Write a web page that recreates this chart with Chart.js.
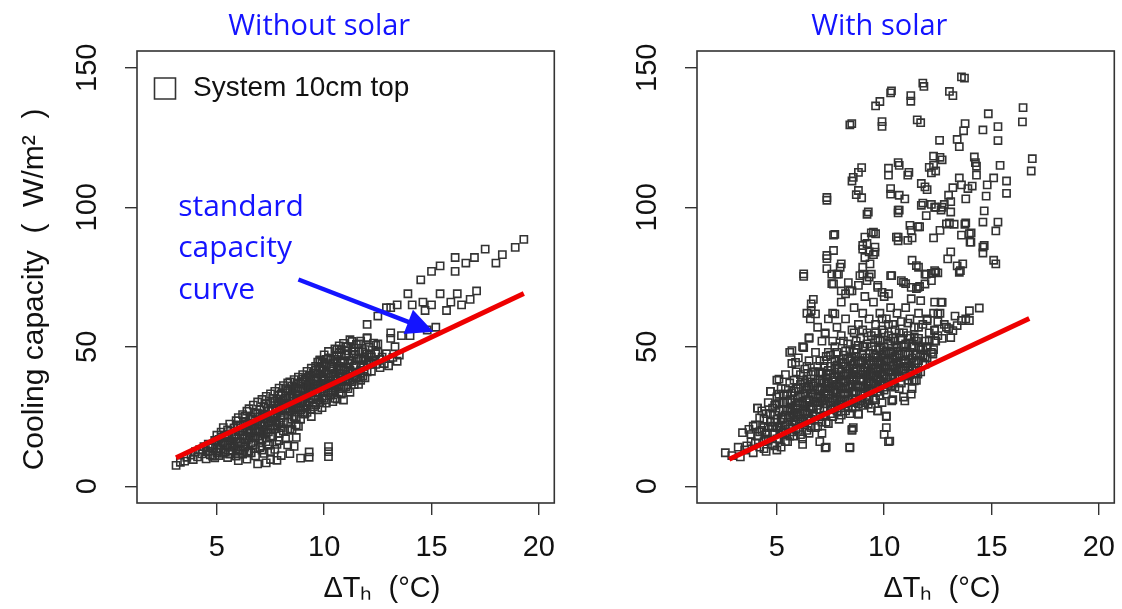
<!DOCTYPE html>
<html><head><meta charset="utf-8">
<script src="https://cdn.jsdelivr.net/npm/chart.js@4.4.1/dist/chart.umd.min.js"></script>
<style>
html,body{margin:0;padding:0;background:#fff;}
body{width:1122px;height:609px;position:relative;overflow:hidden;}
canvas{position:absolute;top:0;}
</style></head><body>
<canvas id="c1" width="561" height="609" style="left:0;width:561px;height:609px"></canvas>
<canvas id="c2" width="561" height="609" style="left:560px;width:561px;height:609px"></canvas>
<script>
// ---------- data ----------
const xTicks = [5, 10, 15, 20];
const yTicks = [0, 50, 100, 150];
const xRange = [1.28, 20.72];
const yRange = [-6, 156];
const panelTitles = ["Without solar", "With solar"];
const legendLabel = "System 10cm top";
const yAxisTitle = "Cooling capacity  (  W/m²  )";
const xAxisTitle = "ΔTₕ  (°C)";
const noteLines = ["standard", "capacity", "curve"];
const noteX = 3.2;
const noteYs = [97, 82, 67.2];
const arrowFrom = [8.8, 74.1];
const arrowTo = [15.09, 55.4];

const leftCurve = [[3.1, 10.2], [19.3, 69.1]];
const rightCurve = [[2.78, 9.7], [16.76, 60.1]];

const leftCloud = [
[3.1,7.5],[3.3,8.6],[3.5,9.0],[3.6,10.4],[3.8,11.2],[3.9,9.6],[4.0,12.4],
[4.1,10.5],[4.2,13.1],[4.3,11.6],[4.4,14.2],[4.5,9.8],[4.5,12.7],
[4.6,15.1],[4.7,11.3],[4.8,13.8],[4.9,16.4],[4.9,10.2],[5.0,12.1],[5.0,18.3],[5.0,14.9],
[5.1,11.0],[5.1,16.8],[5.2,19.4],[5.2,13.5],[5.3,15.6],[5.3,21.0],[5.4,12.2],[5.4,17.9],[5.5,10.3],[5.5,14.7],[5.5,20.2],
[5.6,22.3],[5.6,16.2],[5.7,12.8],[5.7,18.8],[5.8,20.9],[5.8,14.3],[5.9,23.5],[5.9,10.8],[5.9,17.1],[6.0,9.2],[6.0,19.6],[6.0,24.6],[6.0,13.0],
[6.1,15.4],[6.1,21.8],[6.2,11.5],[6.2,25.7],[6.2,18.2],[6.3,23.2],[6.3,14.0],[6.4,20.4],[6.4,26.9],[6.4,9.7],[6.5,16.8],[6.5,22.5],[6.5,12.6],[6.5,27.8],
[6.6,19.0],[6.6,24.7],[6.7,14.8],[6.7,29.1],[6.7,21.6],[6.8,10.9],[6.8,26.3],[6.8,17.4],[6.9,23.0],[6.9,8.0],[6.9,30.2],[7.0,19.8],[7.0,27.4],[7.0,13.9],[7.0,24.8],
[7.1,31.1],[7.1,16.6],[7.1,22.1],[7.2,28.5],[7.2,11.8],[7.2,25.3],[7.3,19.0],[7.3,32.2],[7.3,8.4],[7.4,26.9],[7.4,14.7],[7.4,22.8],[7.5,30.0],[7.5,17.8],[7.5,33.1],[7.5,9.6],
[7.6,24.4],[7.6,28.0],[7.7,20.6],[7.7,34.0],[7.7,13.2],[7.8,26.1],[7.8,31.3],[7.8,9.3],[7.9,22.7],[7.9,35.2],[7.9,16.4],[8.0,29.2],[8.0,33.0],[8.0,11.0],
[8.1,25.5],[8.1,36.1],[8.1,19.8],[8.2,31.5],[8.2,27.6],[8.3,14.8],[8.3,34.2],[8.3,23.1],[8.4,37.4],[8.4,29.5],[8.4,11.7],[8.5,26.8],[8.5,33.0],[8.5,20.3],
[8.6,38.2],[8.6,30.6],[8.6,14.3],[8.7,24.8],[8.7,35.3],[8.7,28.0],[8.8,32.5],[8.8,39.1],[8.8,21.5],[8.9,27.3],[8.9,10.1],[8.9,36.7],[9.0,30.4],[9.0,34.6],[9.0,40.0],
[9.1,25.9],[9.1,38.1],[9.1,32.1],[9.2,41.2],[9.2,29.0],[9.2,35.8],[9.3,10.4],[9.3,12.3],[9.3,33.4],[9.3,39.7],[9.4,27.5],[9.4,36.8],[9.4,42.3],[9.5,31.2],[9.5,40.6],[9.5,34.7],
[9.6,43.0],[9.6,29.3],[9.6,37.9],[9.7,33.6],[9.7,44.5],[9.7,27.4],[9.8,40.3],[9.8,36.1],[9.8,45.3],[9.9,31.8],[9.9,42.0],[9.9,28.2],[10.0,38.5],[10.0,47.1],[10.0,34.0],
[10.1,29.8],[10.1,43.6],[10.2,10.6],[10.2,12.4],[10.2,14.2],[10.2,40.2],[10.2,48.3],[10.3,32.7],[10.3,36.9],[10.3,45.2],[10.4,30.3],[10.4,42.0],[10.5,49.2],[10.5,38.3],[10.5,34.5],
[10.6,31.2],[10.6,44.8],[10.7,40.5],[10.7,36.4],[10.7,50.3],[10.8,33.0],[10.8,46.7],[10.9,39.1],[10.9,30.9],[10.9,51.2],[11.0,42.8],[11.0,35.6],
[11.1,48.5],[11.1,38.0],[11.2,33.7],[11.2,45.0],[11.3,51.9],[11.3,40.6],[11.4,36.4],[11.4,47.3],[11.5,43.3],[11.5,50.8],[11.5,38.7],
[11.6,45.7],[11.7,40.1],[11.7,52.0],[11.8,48.2],[11.8,42.9],[11.9,38.9],[11.9,46.1],[12.0,53.3],[12.0,43.5],
[12.1,49.8],[12.2,41.2],[12.2,46.4],[12.3,51.3],[12.4,43.7],[12.5,48.0],[12.6,42.5],[12.7,46.3],[12.8,44.0],[12.9,47.5],[13.0,43.2],[13.2,46.2],[13.4,44.8],[13.5,47.0],
[5.2,16.0],[5.6,14.0],[5.9,18.5],[6.1,20.0],[6.4,22.0],[6.7,24.0],[6.9,26.0],[7.2,23.0],[7.5,25.0],[7.8,28.0],[8.0,30.5],[8.2,32.5],[8.4,27.0],[8.6,31.5],[8.9,34.0],
[9.1,30.0],[9.3,36.0],[9.6,35.0],[9.9,38.0],[10.2,36.0],[10.4,39.5],[10.6,42.0],[10.8,41.5],[11.1,44.0],[11.4,43.0],[11.7,45.5],[12.1,47.0],
[6.3,16.0],[6.9,18.0],[7.6,21.5],[8.3,25.5],[9.0,28.0],[9.7,31.0],[10.4,34.0],[11.0,38.5],[11.7,41.5],[6.0,11.5],[6.6,15.5],[7.2,20.0],[7.9,19.0],[8.7,22.0],[9.4,25.0],[10.1,31.0],[10.8,35.0]
];
const leftFill = [
[4.6,12.5],[4.7,14.5],[4.8,10.8],[5.0,15.8],[5.1,13.2],[5.2,17.5],[5.3,11.8],[5.4,15.0],[5.5,18.5],[5.6,11.5],[5.7,15.5],[5.8,17.8],[5.9,12.5],[6.0,16.0],[6.0,21.5],
[6.1,12.8],[6.2,19.5],[6.3,17.0],[6.3,25.0],[6.4,12.0],[6.5,20.0],[6.6,22.0],[6.6,12.0],[6.7,18.0],[6.8,23.5],[6.8,13.5],[6.9,20.5],[7.0,17.0],[7.1,25.5],[7.1,13.0],
[7.2,21.5],[7.3,29.5],[7.3,16.0],[7.4,19.5],[7.5,23.5],[7.5,12.5],[7.6,27.0],[7.6,18.0],[7.7,30.5],[7.7,23.5],[7.8,15.0],[7.9,27.5],[7.9,32.5],[8.0,21.0],[8.0,24.5],
[8.1,29.0],[8.2,17.0],[8.2,35.0],[8.3,28.0],[8.4,32.0],[8.4,20.5],[8.5,36.0],[8.5,24.0],[8.6,27.5],[8.7,31.0],[8.7,17.5],[8.8,35.0],[8.8,28.5],[8.9,31.5],[8.9,24.0],
[9.0,37.5],[9.0,26.0],[9.1,35.0],[9.2,32.5],[9.2,26.5],[9.3,38.0],[9.3,30.0],[9.4,34.0],[9.5,38.5],[9.5,28.5],[9.6,32.5],[9.6,40.5],[9.7,36.5],[9.8,30.0],[9.8,42.5],
[9.9,35.0],[9.9,39.5],[10.0,31.5],[10.0,44.0],[10.1,36.5],[10.1,40.5],[10.2,33.5],[10.3,39.0],[10.3,42.5],[10.4,36.0],[10.5,31.5],[10.5,45.5],[10.6,38.0],[10.6,47.0],
[10.7,33.5],[10.7,43.0],[10.8,37.5],[10.8,49.0],[10.9,35.5],[10.9,45.0],[11.0,40.0],[11.0,50.0],[11.1,35.0],[11.2,41.5],[11.2,52.5],[11.3,37.5],[11.3,45.0],[11.4,49.5],
[11.5,41.0],[11.6,36.5],[11.6,48.5],[11.7,43.5],[11.8,39.5],[11.9,49.0],[12.0,41.0],[12.1,45.0],[12.3,45.0],[12.4,47.5],[12.6,45.5],
[6.2,14.5],[6.4,17.5],[6.6,20.5],[6.8,19.5],[7.0,22.0],[7.1,19.0],[7.3,24.5],[7.4,28.0],[7.5,20.5],[7.6,31.5],[7.7,25.5],[7.8,22.0],[7.9,29.5],[8.0,26.5],[8.1,31.0],
[8.1,23.0],[8.2,29.5],[8.3,37.0],[8.3,20.0],[8.4,34.5],[8.5,29.0],[8.6,35.0],[8.6,25.0],[8.7,33.0],[8.8,37.0],[8.9,29.5],[9.0,32.5],[9.0,38.5],[9.1,28.0],[9.2,39.0],
[9.3,35.0],[9.4,31.5],[9.4,39.5],[9.5,36.5],[9.6,41.5],[9.7,39.0],[9.8,33.5],[9.9,44.0],[10.0,41.5],[10.0,36.0],[10.1,45.5],[10.2,38.0],[10.3,34.5],[10.4,44.0],[10.5,40.5],
[10.6,36.0],[10.7,48.0],[10.8,44.5],[10.9,42.0],[11.0,47.0],[11.1,41.0],[11.2,38.0],[11.3,48.5],[11.4,39.5],[11.5,46.0],[11.7,38.0],[11.8,45.0],[12.0,47.5],[12.2,44.0],[12.4,50.5]
];
const leftUpper = [
[19.3,88.5],[18.9,85.6],[18.3,83.0],[18.0,80.0],[17.5,85.0],[17.0,82.0],[16.6,80.0],[16.1,82.0],[16.1,77.0],[15.4,79.0],[15.0,77.0],[14.5,74.0],
[17.1,70.0],[16.8,67.0],[16.4,65.0],[16.2,69.0],[15.9,66.0],[15.7,63.0],[15.4,69.0],[15.0,65.0],[14.7,63.0],[14.6,66.0],[14.1,65.0],[13.9,69.0],
[13.4,65.0],[13.1,64.0],[12.9,64.0],[12.5,61.0],[12.0,58.0],[15.2,57.0],[14.8,56.0],[14.0,54.0],[13.6,54.0],[13.1,55.0],[13.1,53.0],[13.3,50.0],
[12.5,51.0],[12.0,53.0],[11.6,51.0],[11.1,50.0],[10.6,49.0],[10.2,46.0],[9.8,45.0]
];

const rightCloud = [
[2.6,12.0],[2.9,11.0],[3.2,14.0],[3.4,19.2],[3.5,13.0],[3.7,20.4],[3.3,10.5],
[3.8,16.0],[3.9,12.0],[4.0,22.0],[4.1,28.0],[4.1,18.0],[4.2,14.0],[4.3,27.0],[4.3,20.0],[4.4,24.0],[4.5,17.0],[4.5,12.5],[4.6,30.0],[4.6,21.0],
[4.7,34.0],[4.7,26.0],[4.8,19.0],[4.8,15.0],[4.9,29.0],[4.9,23.0],[5.0,38.0],[5.0,32.0],[5.0,17.0],[5.1,27.0],[5.1,21.0],[5.2,35.0],[5.2,14.0],[5.3,30.0],[5.3,24.0],[5.4,19.0],[5.4,40.0],[5.5,33.0],[5.5,27.0],[5.5,16.0],
[5.6,48.0],[5.6,37.0],[5.7,44.0],[5.7,22.0],[5.7,30.0],[5.8,26.0],[5.8,18.0],[5.9,35.0],[5.9,41.0],[6.0,28.0],[6.0,20.0],[6.0,46.0],[6.1,32.0],[6.1,24.0],[6.2,38.0],[6.2,50.0],[6.2,17.0],[6.3,42.0],[6.3,29.0],[6.3,22.0],[6.4,35.0],[6.4,26.0],[6.5,53.0],[6.5,45.0],[6.5,31.0],[6.5,19.0],
[6.6,63.0],[6.6,40.0],[6.6,24.0],[6.7,36.0],[6.7,28.0],[6.8,48.0],[6.8,33.0],[6.8,21.0],[6.9,43.0],[6.9,57.0],[7.0,38.0],[7.0,30.0],[7.0,25.0],[7.1,52.0],[7.1,35.0],[7.1,19.0],[7.2,45.0],[7.2,28.0],[7.25,55.0],[7.3,40.0],[7.3,33.0],[7.3,23.0],[7.4,60.0],[7.4,48.0],[7.4,37.0],[7.5,30.0],[7.5,43.0],[7.5,26.0],[7.3,14.0],[7.0,16.0],
[7.6,62.0],[7.6,52.0],[7.6,34.0],[7.7,45.0],[7.7,39.0],[7.7,28.0],[7.8,57.0],[7.8,48.0],[7.8,31.0],[7.9,42.0],[7.9,36.0],[7.9,24.0],[8.0,66.0],[8.0,54.0],[8.0,38.0],[8.0,29.0],[8.1,47.0],[8.1,33.0],[8.2,60.0],[8.2,43.0],[8.2,27.0],[8.3,51.0],[8.3,36.0],[8.3,31.0],[8.4,70.0],[8.4,45.0],[8.4,14.0],[8.4,26.0],[8.5,56.0],[8.5,40.0],[8.5,34.0],[8.5,20.0],
[8.6,64.0],[8.6,48.0],[8.6,30.0],[8.7,52.0],[8.7,42.0],[8.7,36.0],[8.8,72.0],[8.8,58.0],[8.8,26.0],[8.8,45.0],[8.9,38.0],[8.9,33.0],[9.0,62.0],[9.0,50.0],[9.0,41.0],[9.0,29.0],[9.1,68.0],[9.1,46.0],[9.1,35.0],[9.2,55.0],[9.2,39.0],[9.2,31.0],[9.3,75.0],[9.3,60.0],[9.3,44.0],[9.4,50.0],[9.4,37.0],[9.4,28.0],[9.5,66.0],[9.5,42.0],[9.5,34.0],
[9.6,58.0],[9.6,47.0],[9.6,31.0],[9.7,72.0],[9.7,53.0],[9.7,38.0],[9.7,27.0],[9.8,62.0],[9.8,44.0],[9.8,35.0],[9.9,56.0],[9.9,40.0],[9.9,30.0],[10.0,68.0],[10.0,50.0],[10.0,37.0],[10.0,18.6],[10.1,60.0],[10.1,45.0],[10.1,33.0],[10.1,21.0],[10.1,25.0],[10.2,54.0],[10.2,41.0],[10.2,16.0],[10.3,64.0],[10.3,48.0],[10.3,36.0],[10.4,58.0],[10.4,43.0],[10.4,31.0],[10.5,52.0],[10.5,39.0],
[10.6,62.0],[10.6,46.0],[10.7,55.0],[10.7,35.0],[10.8,59.0],[10.8,42.0],[10.9,50.0],[10.9,32.0],[11.0,64.0],[11.0,45.0],[11.1,54.0],[11.1,38.0],[11.2,60.0],[11.2,48.0],[11.3,42.0],[11.3,35.0],[11.4,57.0],[11.4,50.0],[11.5,45.0],[11.5,38.0],
[11.6,62.0],[11.6,53.0],[11.7,47.0],[11.7,41.0],[11.8,58.0],[11.8,44.0],[11.9,52.0],[11.9,46.0],[12.0,60.0],[12.0,50.0],[12.1,55.0],[12.2,48.0],[12.3,62.0],[12.35,56.0],[12.4,52.0],[12.5,59.0],
[5.2,20.0],[5.6,21.0],[5.9,23.0],[6.1,26.0],[6.4,24.0],[6.7,26.0],[6.9,29.0],[7.2,27.0],[7.5,29.0],[7.7,31.0],[8.0,31.0],[8.2,33.0],[8.5,31.0],[8.7,34.0],[9.0,33.0],[9.2,36.0],[9.5,37.0],[9.7,39.0],[10.0,40.0],[10.3,41.0],[10.6,41.0],[10.9,44.0],[11.2,43.0],[11.5,47.0],[11.8,49.0],
[5.4,22.0],[6.0,30.0],[6.6,33.0],[7.2,37.0],[7.8,40.0],[8.4,42.0],[9.0,45.0],[9.6,49.0],[10.2,51.0],[10.8,53.0],[4.4,16.0],[4.9,19.0],[5.6,25.0],[6.2,27.0],[6.8,30.0],[7.4,33.0],[8.0,35.0],[8.6,38.0],[9.2,41.0],[9.8,42.0],[10.4,46.0],[11.0,48.0],[11.6,50.0],
[13.1,53.3],[13.2,55.8],[13.4,57.6],[13.6,59.4],[13.8,60.0],[13.97,59.4],[13.97,62.9],[14.43,63.9],[12.9,57.0],[13.3,61.0],
[8.56,21.0],[10.1,25.2],[8.5,20.4],[8.4,13.8],[7.25,13.8],[10.26,16.2],[5.0,13.0],[6.2,15.0],
[4.1,28.0],[4.7,34.0],[5.1,38.4],[5.7,48.6],[5.87,44.4],[6.25,49.7],[6.5,53.3],[7.25,54.6],[7.7,61.8]
];
const rightFill = [
[3.6,14.5],[3.8,18.5],[3.9,21.5],[4.0,15.5],[4.2,19.5],[4.2,24.5],[4.4,13.5],[4.4,21.0],[4.5,26.0],[4.6,16.5],[4.7,23.0],[4.8,28.0],[4.9,14.5],[4.9,25.5],[5.0,21.0],
[5.0,29.5],[5.1,17.0],[5.1,33.0],[5.2,24.0],[5.3,19.5],[5.3,27.5],[5.4,35.0],[5.4,16.0],[5.5,23.0],[5.5,30.0],[5.6,18.0],[5.6,28.0],[5.7,33.5],[5.7,19.5],[5.8,23.5],
[5.8,38.0],[5.9,29.0],[5.9,20.5],[6.0,25.0],[6.0,35.0],[6.1,18.5],[6.1,29.0],[6.1,40.0],[6.2,23.0],[6.2,33.0],[6.3,26.0],[6.3,37.0],[6.4,20.0],[6.4,30.0],[6.4,43.0],
[6.5,24.5],[6.5,35.5],[6.6,28.5],[6.6,21.0],[6.7,32.0],[6.7,41.0],[6.8,25.0],[6.8,37.0],[6.9,21.5],[6.9,31.5],[7.0,27.5],[7.0,34.5],[7.0,45.0],[7.1,23.0],[7.1,30.5],
[7.1,40.5],[7.2,33.5],[7.2,25.5],[7.3,36.5],[7.3,29.5],[7.3,46.5],[7.4,22.5],[7.4,31.5],[7.4,41.5],[7.5,35.0],[7.5,27.5],[7.6,38.0],[7.6,25.0],[7.6,30.5],[7.7,34.5],
[7.7,50.0],[7.8,27.0],[7.8,36.5],[7.8,43.5],[7.9,30.0],[7.9,39.5],[8.0,25.5],[8.0,33.0],[8.0,44.5],[8.1,37.0],[8.1,29.5],[8.1,52.0],[8.2,35.0],[8.2,40.0],[8.3,28.5],
[8.3,45.5],[8.3,33.5],[8.4,38.5],[8.4,30.0],[8.4,49.0],[8.5,36.5],[8.5,43.5],[8.5,28.0],[8.6,33.5],[8.6,41.0],[8.6,55.0],[8.7,31.0],[8.7,39.0],[8.7,46.5],[8.8,35.5],
[8.8,29.5],[8.8,50.5],[8.9,41.5],[8.9,36.0],[8.9,30.5],[9.0,38.0],[9.0,47.0],[9.0,56.0],[9.1,33.5],[9.1,42.5],[9.1,30.0],[9.2,37.5],[9.2,46.0],[9.2,51.0],[9.3,34.5],
[9.3,40.0],[9.3,31.0],[9.4,43.5],[9.4,54.0],[9.4,35.0],[9.5,39.5],[9.5,47.5],[9.5,31.5],[9.6,36.0],[9.6,42.5],[9.6,52.5],[9.7,34.0],[9.7,46.0],[9.7,41.0],[9.8,37.5],
[9.8,49.0],[9.8,32.5],[9.9,43.5],[9.9,36.5],[9.9,60.0],[10.0,34.5],[10.0,45.0],[10.0,55.0],[10.1,38.5],[10.1,48.5],[10.2,36.5],[10.2,44.5],[10.2,58.0],[10.3,39.0],
[10.3,52.0],[10.4,37.0],[10.4,48.0],[10.5,42.0],[10.5,56.0],[10.5,35.5],[10.6,44.0],[10.6,50.0],[10.7,39.0],[10.7,47.0],[10.8,45.0],[10.8,37.0],[10.9,41.5],[10.9,55.0],
[11.0,39.5],[11.0,51.0],[11.1,43.0],[11.1,58.5],[11.2,40.0],[11.2,53.0],[11.3,46.0],[11.3,38.0],[11.4,44.0],[11.5,41.5],[11.5,52.0],[11.6,45.0],[11.7,49.0],[11.8,47.0],
[12.0,46.0],[12.1,52.0],[12.3,49.0],[12.5,54.0],[12.7,53.0],[12.8,58.0],[13.0,56.5],[12.6,62.0],
[4.5,19.0],[4.8,21.5],[5.0,24.0],[5.1,30.0],[5.3,33.0],[5.4,25.5],[5.6,31.0],[5.7,26.5],[5.8,34.0],[5.9,26.0],[6.0,32.5],[6.1,36.5],[6.2,30.0],[6.3,33.5],[6.4,38.5],
[6.5,28.0],[6.6,36.5],[6.7,30.5],[6.8,41.0],[6.9,35.0],[7.0,32.0],[7.0,41.0],[7.1,37.5],[7.2,43.0],[7.2,31.0],[7.3,38.5],[7.4,35.0],[7.5,40.0],[7.5,47.0],[7.6,36.0],
[7.7,42.0],[7.8,34.0],[7.9,45.5],[8.0,41.0],[8.1,39.5],[8.1,44.0],[8.2,37.5],[8.2,48.5],[8.3,40.5],[8.4,35.5],[8.5,46.0],[8.5,38.5],[8.6,44.0],[8.7,49.0],[8.8,40.0],
[8.9,44.5],[8.9,53.0],[9.0,36.0],[9.1,40.0],[9.1,50.0],[9.2,43.5],[9.3,47.5],[9.3,37.0],[9.4,40.5],[9.5,45.0],[9.6,39.0],[9.6,55.0],[9.7,44.0],[9.8,40.0],[9.8,52.0],
[9.9,47.0],[10.0,42.0],[10.0,48.0],[10.1,43.0],[10.2,47.5],[10.3,44.5],[10.4,40.0],[10.4,53.0],[10.5,46.5],[10.6,48.5],[10.7,42.5],[10.8,50.5],[11.0,43.0],[11.1,47.0],
[11.3,50.0],[11.4,53.5]
];
const rightUpper = [
[13.74,146.3],[13.6,146.7],[13.04,141.5],[13.2,140.0],[11.8,144.5],[11.85,143.3],[11.24,140.0],[11.24,138.0],[10.34,141.7],[10.3,141.0],[9.8,137.9],[9.6,136.3],
[8.49,130.0],[8.4,129.5],[9.9,130.7],[9.9,129.0],[11.54,131.3],[11.7,130.3],[12.58,124.0],[13.4,124.3],[13.5,121.7],[13.77,130.0],[13.7,127.4],[14.6,127.7],
[14.85,133.5],[15.3,128.9],[15.3,123.9],[16.47,135.7],[16.44,130.6],[16.9,117.4],[16.85,113.0],[15.4,115.0],[15.7,109.4],[15.7,105.0],[15.1,110.5],[14.8,108.0],
[14.75,104.0],[14.66,98.7],[14.6,94.7],[15.3,94.7],[15.2,91.5],[14.3,114.7],[14.2,118.0],[14.25,116.0],[14.3,111.5],[14.1,107.6],[13.9,106.7],[13.8,103.0],
[13.5,110.5],[13.6,108.0],[13.2,107.0],[13.0,104.3],[13.1,102.0],[13.1,98.3],[12.7,100.0],[12.35,100.0],[11.96,97.0],[11.73,100.7],[11.8,101.5],[13.04,94.4],
[12.9,94.0],[13.26,93.9],[13.76,93.9],[13.6,90.0],[13.97,90.5],[12.6,91.7],[12.3,89.0],[11.65,93.0],[11.2,93.5],[11.3,89.0],[10.57,89.3],[9.5,91.1],[9.6,90.5],
[7.7,90.3],[12.1,114.3],[12.2,112.3],[12.3,115.0],[12.4,113.0],[12.3,118.3],[12.6,117.9],[12.7,117.0],[11.73,108.5],[11.9,107.3],[12.0,106.3],[10.65,116.0],
[10.7,115.0],[10.2,114.0],[10.2,111.5],[11.1,111.5],[11.15,112.5],[10.3,106.7],[10.3,104.7],[10.7,104.3],[10.96,103.0],[8.95,114.2],[8.8,112.5],[8.56,110.7],
[8.5,109.4],[8.8,106.0],[8.95,103.4],[8.7,104.5],[7.33,103.5],[7.33,102.5],[9.26,98.3],[9.2,97.5],[10.7,99.0],[10.65,98.0],[15.2,79.7],[15.1,81.0],[14.6,85.7],
[14.6,83.6],[14.05,90.8],[14.0,87.5],[13.8,94.4],[13.4,79.0],[13.55,77.3],[12.96,81.5],[13.1,84.0],[12.5,76.5],[12.35,77.3],[11.96,76.0],[11.65,71.6],[11.5,70.8],
[10.3,75.5],[10.8,73.7],[11.0,72.6],[7.33,82.7],[7.64,84.5],[7.64,90.0],[7.56,72.6],[7.95,78.5],[9.0,85.0],[9.1,89.3],[9.4,90.8],[9.57,85.7],[10.65,89.3],
[11.1,88.1],[11.26,91.7],[11.57,93.0],[10.65,99.0],[12.2,101.0],[12.4,100.0],[12.65,99.0],[12.8,101.0],[11.6,78.5],[11.9,76.0],[11.26,71.3],[6.25,76.1],
[6.25,75.2],[6.7,67.0],[6.6,65.4],[6.4,62.0],[6.56,60.0],[6.8,61.8],[7.56,76.0],[7.64,72.5],[7.87,76.0],[8.0,70.0],[8.2,69.0],[8.87,75.5],[9.0,78.5],[9.34,79.7],
[9.7,71.3],[9.9,69.5],[10.2,69.0],[11.57,71.3],[11.9,72.5],[12.2,73.7],[12.35,66.0],[12.65,66.0],[9.0,76.0],[9.2,73.7],[9.4,76.0],[8.33,73.0],[8.5,70.0],
[7.33,81.6],[7.33,78.0],[7.8,76.0],[8.0,79.7],[9.1,82.0],[9.3,84.0],[9.5,83.0],[9.2,87.0],[10.35,75.5],[10.9,73.1],[9.57,83.9],[9.0,86.3],[14.04,87.5],
[14.66,86.3],[13.66,79.7],[13.5,76.7],[12.4,76.7],[12.2,76.3],[11.5,79.1],[11.3,81.0],[10.65,88.0],[11.26,67.2],[11.7,66.5],[12.7,65.9],[12.5,61.8],[12.0,59.4],
[11.6,57.0],[12.35,55.8],[12.35,52.2],[12.0,49.9],[12.27,47.4],[11.9,43.8],[11.57,40.2],[11.4,37.8],[11.26,33.0],[10.96,30.6],[10.35,30.6],[9.7,27.0],[9.26,29.4],
[8.8,25.8],[8.33,28.2]
];

// ---------- helpers ----------
const toXY = arr => arr.map(p => ({x: p[0], y: p[1]}));
const TICK_FONT = {family: "'Liberation Sans', Arial, sans-serif", size: 29};
const YT_FONT = {family: "'Liberation Sans', Arial, sans-serif", size: 30};
const BLUE = '#1414ff';

const boxPlugin = {
  id: 'rbox',
  afterDraw(chart) {
    const {ctx, chartArea: a} = chart;
    ctx.save();
    ctx.strokeStyle = '#333';
    ctx.lineWidth = 1.6;
    ctx.strokeRect(a.left, a.top, a.right - a.left, a.bottom - a.top);
    ctx.restore();
  }
};

const notePlugin = {
  id: 'note',
  afterDatasetsDraw(chart) {
    const {ctx, scales: {x, y}} = chart;
    ctx.save();
    ctx.fillStyle = BLUE;
    ctx.font = "30px 'Open Sans', sans-serif";
    ctx.textBaseline = 'alphabetic';
    ctx.textAlign = 'left';
    noteLines.forEach((t, i) => ctx.fillText(t, x.getPixelForValue(noteX), y.getPixelForValue(noteYs[i])));
    const x0 = x.getPixelForValue(arrowFrom[0]), y0 = y.getPixelForValue(arrowFrom[1]);
    const x1 = x.getPixelForValue(arrowTo[0]), y1 = y.getPixelForValue(arrowTo[1]);
    const ang = Math.atan2(y1 - y0, x1 - x0);
    const hl = 27, hw = 13;
    const bx = x1 - hl * Math.cos(ang), by = y1 - hl * Math.sin(ang);
    ctx.strokeStyle = BLUE;
    ctx.lineWidth = 4.5;
    ctx.beginPath(); ctx.moveTo(x0, y0); ctx.lineTo(bx + 2 * Math.cos(ang), by + 2 * Math.sin(ang)); ctx.stroke();
    ctx.beginPath();
    ctx.moveTo(x1, y1);
    ctx.lineTo(bx + hw * Math.sin(ang), by - hw * Math.cos(ang));
    ctx.lineTo(bx - hw * Math.sin(ang), by + hw * Math.cos(ang));
    ctx.closePath();
    ctx.fillStyle = BLUE; ctx.fill();
    ctx.restore();
  }
};

function makeChart(id, points, curve, title, isLeft) {
  return new Chart(document.getElementById(id), {
    data: {
      datasets: [
        {
          type: 'scatter', label: legendLabel, data: toXY(points),
          pointStyle: 'rect', pointRadius: 5.1, borderWidth: 1.6,
          borderColor: '#333333', backgroundColor: 'rgba(0,0,0,0)', order: 2
        },
        {
          type: 'line', label: 'standard capacity curve', data: toXY(curve),
          borderColor: '#ee0000', borderWidth: 5, pointRadius: 0, fill: false, order: 1
        }
      ]
    },
    options: {
      responsive: false, animation: false, events: [],
      layout: {padding: {left: 0, right: 3, top: 0, bottom: 0}},
      plugins: {
        tooltip: {enabled: false},
        title: {
          display: true, text: title + '       ', fullSize: false,
          color: BLUE, font: {family: "'Open Sans', sans-serif", size: 29, weight: 'normal'},
          padding: {top: 9, bottom: 7.2}
        },
        legend: {
          display: isLeft, position: 'chartArea', align: 'start',
          title: {display: true, text: '', font: {size: 5}, padding: {top: 0, bottom: 54.5}},
          labels: {
            usePointStyle: true, pointStyle: 'rect', boxWidth: 28, boxHeight: 21, padding: 14,
            color: '#111', font: {family: "'Liberation Sans', Arial, sans-serif", size: 28},
            filter: item => item.datasetIndex === 0
          }
        }
      },
      scales: {
        x: {
          type: 'linear', position: 'bottom', min: xRange[0], max: xRange[1],
          afterBuildTicks: s => { s.ticks = xTicks.map(v => ({value: v})); },
          afterFit: s => { s.height = 106; s.paddingLeft = 0; s.paddingRight = 0; },
          grid: {drawOnChartArea: false, drawTicks: true, tickLength: 12, color: '#333', lineWidth: 1.4},
          border: {display: false},
          ticks: {font: TICK_FONT, color: '#111', padding: 16, maxRotation: 0, autoSkip: false},
          title: {display: true, text: '         ' + xAxisTitle, color: '#111', font: TICK_FONT, padding: {top: 0, bottom: 3}}
        },
        y: {
          type: 'linear', position: 'left', min: yRange[0], max: yRange[1],
          afterBuildTicks: s => { s.ticks = yTicks.map(v => ({value: v})); },
          afterFit: s => { s.width = 137; s.paddingTop = 0; s.paddingBottom = 0; },
          grid: {drawOnChartArea: false, drawTicks: true, tickLength: 12, color: '#333', lineWidth: 1.4},
          border: {display: false},
          ticks: {font: TICK_FONT, color: '#111', padding: 12.8, minRotation: 90, maxRotation: 90, crossAlign: 'center', autoSkip: false},
          title: {display: isLeft, text: yAxisTitle + '   ', color: '#111', font: YT_FONT, padding: {top: 17, bottom: 0}}
        }
      }
    },
    plugins: isLeft ? [boxPlugin, notePlugin] : [boxPlugin]
  });
}

makeChart('c1', leftCloud.concat(leftFill, leftUpper), leftCurve, panelTitles[0], true);
makeChart('c2', rightCloud.concat(rightFill, rightUpper), rightCurve, panelTitles[1], false);
</script>
</body></html>
